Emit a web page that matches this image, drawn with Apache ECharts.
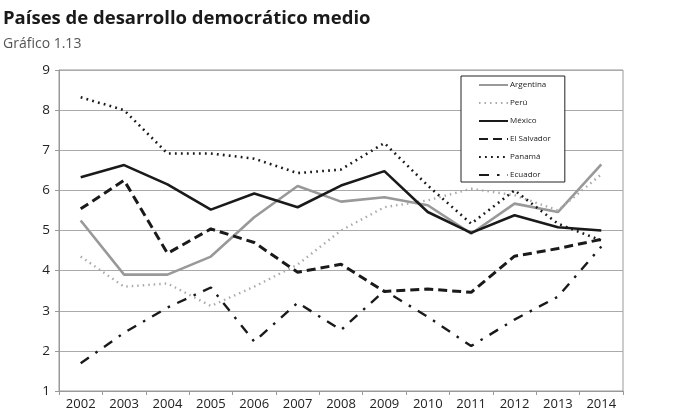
<!DOCTYPE html>
<html>
<head>
<meta charset="utf-8">
<script src="https://cdn.jsdelivr.net/npm/echarts@6/dist/echarts.min.js"></script>
<style>
  html, body { margin: 0; padding: 0; background: #fff; }
  #chart { width: 680px; height: 412px; }
</style>
</head>
<body>
<div id="chart"></div>
<script>
const years = ['2002', '2003', '2004', '2005', '2006', '2007', '2008', '2009', '2010', '2011', '2012', '2013', '2014']

const argentina = [5.25, 3.9, 3.9, 4.35, 5.33, 6.11, 5.72, 5.83, 5.63, 4.92, 5.67, 5.46, 6.65]
const peru = [4.35, 3.6, 3.68, 3.12, 3.6, 4.15, 5.0, 5.58, 5.75, 6.04, 5.88, 5.5, 6.4]
const mexico = [6.33, 6.63, 6.15, 5.52, 5.92, 5.58, 6.12, 6.48, 5.46, 4.94, 5.38, 5.08, 5.0]
const elSalvador = [5.54, 6.25, 4.43, 5.04, 4.7, 3.96, 4.16, 3.48, 3.54, 3.46, 4.36, 4.55, 4.78]
const panama = [8.32, 8.0, 6.92, 6.92, 6.79, 6.43, 6.52, 7.18, 6.12, 5.17, 6.0, 5.17, 4.75]
const ecuador = [1.69, 2.45, 3.08, 3.58, 2.23, 3.2, 2.52, 3.5, 2.85, 2.12, 2.78, 3.35, 4.6]

const font = '"Open Sans", "Noto Sans", sans-serif'

function line(name, data, color, width, type) {
    return {
        name: name,
        type: 'line',
        data: data,
        symbol: 'none',
        lineStyle: { color: color, width: width, type: type, cap: 'butt' },
        itemStyle: { color: color }
    }
}

const chart = echarts.init(document.getElementById('chart'))
chart.setOption({
    animation: false,
    title: [
        {
            text: 'Países de desarrollo democrático medio',
            left: -2, top: 4,
            textStyle: { fontFamily: font, fontWeight: 'bold', fontSize: 18.5, color: '#1a1a1a' }
        },
        {
            text: 'Gráfico 1.13',
            left: -2, top: 32,
            textStyle: { fontFamily: font, fontWeight: 'normal', fontSize: 14, color: '#555' }
        }
    ],
    grid: {
        left: 59, right: 57, top: 70, bottom: 21,
        show: true, borderColor: '#999', borderWidth: 1
    },
    legend: {
        orient: 'vertical',
        left: 461, top: 76,
        itemWidth: 29, itemHeight: 8, itemGap: 10,
        padding: [5, 14, 3, 17],
        backgroundColor: '#fff',
        borderColor: '#222', borderWidth: 1,
        itemStyle: { opacity: 0 },
        textStyle: { fontFamily: font, fontSize: 8, color: '#222', padding: [0, 0, 0, -3] },
        data: ['Argentina', 'Perú', 'México', 'El Salvador', 'Panamá', 'Ecuador']
    },
    xAxis: {
        type: 'category',
        data: years,
        boundaryGap: true,
        axisLine: { lineStyle: { color: '#999', width: 1 } },
        axisTick: { show: true, length: 4, lineStyle: { color: '#999' } },
        axisLabel: { fontFamily: font, fontSize: 13, color: '#222', margin: 7 },
        splitLine: { show: false }
    },
    yAxis: {
        type: 'value',
        min: 1, max: 9, interval: 1,
        axisLine: { show: true, lineStyle: { color: '#999', width: 1 } },
        axisTick: { show: true, length: 4, lineStyle: { color: '#999' } },
        axisLabel: { fontFamily: font, fontSize: 13.5, color: '#222', margin: 9 },
        splitLine: { lineStyle: { color: '#aaa', width: 1.2 } }
    },
    series: [
        line('Argentina', argentina, '#999', 2.6, 'solid'),
        line('Perú', peru, '#aaa', 2.4, [1.5, 4]),
        line('México', mexico, '#1a1a1a', 2.6, 'solid'),
        line('El Salvador', elSalvador, '#1a1a1a', 3, [9, 5]),
        line('Panamá', panama, '#1a1a1a', 2.6, [1.8, 4.2]),
        line('Ecuador', ecuador, '#1a1a1a', 2.4, [10, 8, 2.5, 8])
    ]
})
</script>
</body>
</html>
